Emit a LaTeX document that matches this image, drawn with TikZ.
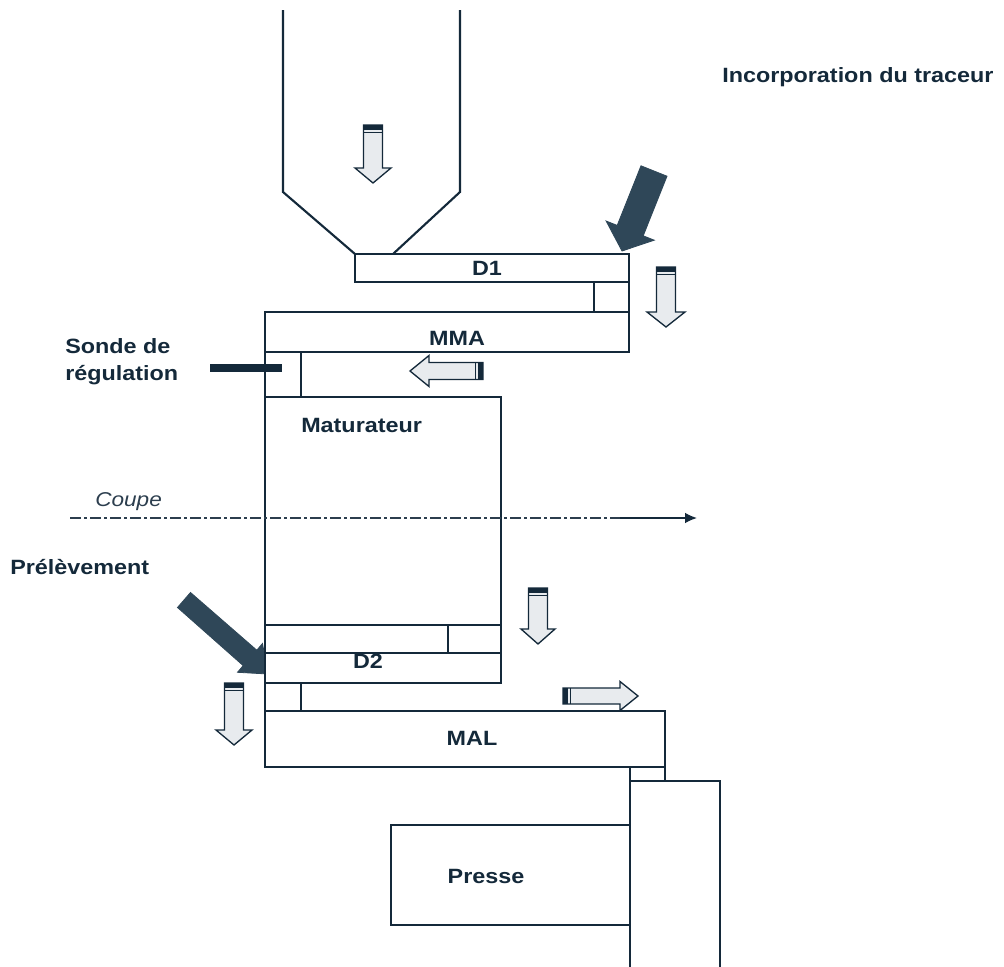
\documentclass[tikz,border=0pt]{standalone}
\usepackage{fontspec}
\newfontfamily\lab{Liberation Sans}[FakeStretch=1.13]
\usetikzlibrary{arrows.meta}
\definecolor{ink}{HTML}{14293A}
\definecolor{slate}{HTML}{2F4758}
\definecolor{pale}{HTML}{E8EBEE}
\definecolor{greyink}{HTML}{2C3E4E}
\tikzset{
  box/.style={draw=ink, fill=white, line width=1.6pt},
  edge/.style={draw=ink, line width=1.6pt},
  lbl/.style={font=\lab\bfseries\fontsize{15.5}{20.25}\selectfont, text=ink, inner sep=0pt},
  hollowbody/.style={draw=ink, fill=pale, line width=1pt, line join=miter},
  darkarrow/.style={fill=slate, draw=slate, line width=0.6pt},
  pics/hollow/.style n args={4}{code={
    \filldraw[hollowbody] (-#2,0) -- (-#2,#1-#4) -- (-#3,#1-#4) -- (0,#1) -- (#3,#1-#4) -- (#2,#1-#4) -- (#2,0) -- cycle;
    \fill[ink] (-#2,0) rectangle (#2,5);
    \draw[ink, line width=0.8pt] (-#2,7.5) -- (#2,7.5);
  }}
}
\begin{document}
\begin{tikzpicture}[x=0.75pt, y=-0.75pt]
\useasboundingbox (0,0) rectangle (1004,967);

% hopper
\draw[edge] (283,10) -- (283,192) -- (355,254);
\draw[edge] (460,10) -- (460,192) -- (393,254);

% dark arrows
\filldraw[darkarrow] (667.0,176.2) -- (643.2,235.8) -- (654.3,240.2) -- (622,251) -- (606.1,221.0) -- (617.2,225.4) -- (641.0,165.8) -- cycle;
\filldraw[darkarrow] (177.5,607.5) -- (243.2,665.6) -- (237.5,672.3) -- (268,674) -- (262.5,643.5) -- (256.8,650.2) -- (190.5,592.5) -- cycle;

% boxes
\draw[box] (355,254) rectangle (629,282);
\draw[box] (594,282) rectangle (629,312);
\draw[box] (265,312) rectangle (629,352);
\draw[box] (265,352) rectangle (301,397);
\draw[box] (265,397) rectangle (501,625);
\draw[box] (265,625) rectangle (501,653);
\draw[edge] (448,625) -- (448,653);
\draw[box] (265,653) rectangle (501,683);
\draw[box] (265,683) rectangle (301,711);
\draw[box] (265,711) rectangle (665,767);
\draw[edge] (630,767) -- (630,781);
\draw[edge] (665,767) -- (665,781);
\draw[box] (391,825) rectangle (630,925);
\draw[edge] (630,967) -- (630,781) -- (720,781) -- (720,967);

% hollow arrows
\pic at (373,125) {hollow={58}{9.5}{18}{15}};
\pic at (666,267) {hollow={60}{9.5}{19}{15}};
\pic at (538,588) {hollow={56}{9.5}{17}{15}};
\pic at (234,683) {hollow={62}{9.5}{18}{15}};
\pic[rotate=-90] at (483,371) {hollow={73}{8.5}{15.5}{19}};
\pic[rotate=90] at (563,696) {hollow={75}{8}{14.5}{18}};

% sonde
\fill[ink] (210,364) rectangle (282,372);

% coupe line
\draw[greyink, line width=1.3pt, dash pattern=on 8pt off 2.5pt on 2pt off 2.5pt] (70,518) -- (620,518);
\coordinate (cs) at (620,518);
\coordinate (ce) at (697,518);
\draw[ink, line width=1.1pt, -{Latex[length=9pt,width=8pt]}] (cs) -- (ce);

% labels
\node[lbl, anchor=west] (inc) at (722,77) {Incorporation du traceur};
\node[lbl] (d1) at (487,268) {D1};
\node[lbl] (mma) at (457,338) {MMA};
\node[lbl, anchor=west, align=left] (sonde) at (65,361.5) {Sonde de\\régulation};
\node[lbl, anchor=west] (mat) at (301,425) {Maturateur};
\node[anchor=west, inner sep=0pt, text=greyink, font=\lab\itshape\fontsize{15}{18}\selectfont] (coupe) at (95,502) {Coupe};
\node[lbl, anchor=west] (prel) at (10,567) {Prélèvement};
\node[lbl] (d2) at (368,661) {D2};
\node[lbl] (mal) at (472,738) {MAL};
\node[lbl] (presse) at (486,876) {Presse};
\end{tikzpicture}
\end{document}
